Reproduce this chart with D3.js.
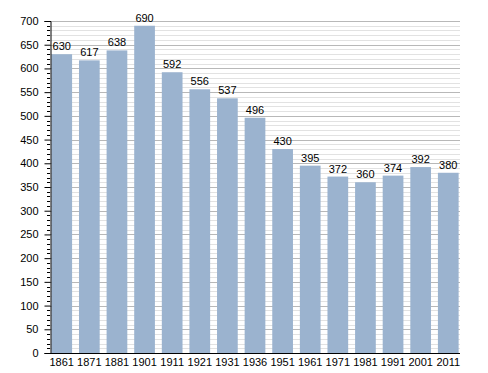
<!DOCTYPE html>
<html>
<head>
<meta charset="utf-8">
<script src="https://cdn.jsdelivr.net/npm/d3@7"></script>
<style>
  body { margin: 0; background: #fff; }
  svg { display: block; font-family: "Liberation Sans", Arial, sans-serif; }
</style>
</head>
<body>
<svg id="chart"></svg>
<script>
// population by census year
const years = ["1861", "1871", "1881", "1901", "1911", "1921", "1931", "1936", "1951", "1961", "1971", "1981", "1991", "2001", "2011"];
const population = [630, 617, 638, 690, 592, 556, 537, 496, 430, 395, 372, 360, 374, 392, 380];
const yMajorTicks = d3.range(0, 701, 50);
const yMinorTicks = d3.range(0, 701, 10);

const width = 488;
const height = 373;
const margin = { top: 21, right: 28, bottom: 20, left: 50 };

const svg = d3.select("#chart").attr("width", width).attr("height", height);

const x = d3.scaleBand()
  .domain(years)
  .range([margin.left, width - margin.right])
  .paddingInner(0.25)
  .paddingOuter(0.05);

const y = d3.scaleLinear()
  .domain([0, 700])
  .range([height - margin.bottom, margin.top]);

// grid
svg.append("g")
  .selectAll("line")
  .data(yMinorTicks.filter(d => d % 50 !== 0))
  .join("line")
  .attr("x1", margin.left).attr("x2", width - margin.right)
  .attr("y1", d => Math.round(y(d)) + 0.5).attr("y2", d => Math.round(y(d)) + 0.5)
  .attr("stroke", "#e2e2e2");

svg.append("g")
  .selectAll("line")
  .data(yMajorTicks.filter(d => d > 0))
  .join("line")
  .attr("x1", margin.left).attr("x2", width - margin.right)
  .attr("y1", d => Math.round(y(d)) + 0.5).attr("y2", d => Math.round(y(d)) + 0.5)
  .attr("stroke", "#b8b8b8");

// bars
svg.append("g")
  .selectAll("rect")
  .data(population)
  .join("rect")
  .attr("x", (d, i) => x(years[i]))
  .attr("width", x.bandwidth())
  .attr("y", d => y(d))
  .attr("height", d => y(0) - y(d))
  .attr("fill", "#9bb3cf");

// value labels
svg.append("g")
  .selectAll("text")
  .data(population)
  .join("text")
  .attr("x", (d, i) => x(years[i]) + x.bandwidth() / 2)
  .attr("y", d => y(d) - 4)
  .attr("text-anchor", "middle")
  .attr("font-size", 11)
  .attr("fill", "#000")
  .text(d => d);

// y axis
const yAxis = svg.append("g")
  .attr("transform", `translate(${margin.left + 0.5},0)`)
  .call(d3.axisLeft(y).tickValues(yMajorTicks).tickSize(6).tickPadding(6));
yAxis.selectAll("text").attr("font-size", 11).attr("fill", "#000").attr("font-family", "Liberation Sans, Arial, sans-serif");
yAxis.select(".domain").attr("stroke", "#000");

svg.append("g")
  .selectAll("line")
  .data(yMinorTicks.filter(d => d % 50 !== 0))
  .join("line")
  .attr("x1", margin.left - 3).attr("x2", margin.left)
  .attr("y1", d => Math.round(y(d)) + 0.5).attr("y2", d => Math.round(y(d)) + 0.5)
  .attr("stroke", "#000");

// x axis
const xAxis = svg.append("g")
  .attr("transform", `translate(0,${y(0) + 0.5})`)
  .call(d3.axisBottom(x).tickSize(0).tickPadding(5));
xAxis.select(".domain").attr("stroke", "#000").attr("d", `M${margin.left},0H${width - margin.right}`);
xAxis.selectAll("text").attr("font-size", 11).attr("fill", "#000").attr("font-family", "Liberation Sans, Arial, sans-serif");
</script>
</body>
</html>
